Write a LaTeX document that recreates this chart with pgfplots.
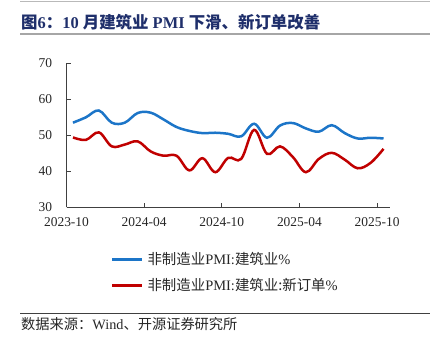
\documentclass[border=0pt]{standalone}
\usepackage{pgfplots}
\pgfplotsset{compat=1.18}
\usepackage{fontspec}
\setmainfont{Liberation Serif}
\newfontfamily\cjk{Noto Sans CJK SC}
\definecolor{pblue}{HTML}{1C75C8}
\definecolor{pred}{HTML}{C00000}
\definecolor{ttl}{HTML}{1F2F6B}
\definecolor{axgray}{HTML}{404040}
\begin{document}
\begin{tikzpicture}[x=1bp,y=1bp]
\path (0bp,0bp) rectangle (440bp,350bp);
\draw[gray!55, line width=0.8bp] (20bp,349bp) -- (430bp,349bp);
\node[anchor=west, text=ttl, inner sep=0pt, font=\fontsize{16.5}{19}\selectfont\bfseries] at (21bp,328bp) {{\cjk\bfseries 图}6{\cjk\bfseries ：}10 {\cjk\bfseries 月建筑业} PMI {\cjk\bfseries 下滑、新订单改善}};
\draw[gray!70, line width=2bp] (20bp,315.5bp) -- (430bp,315.5bp);
\begin{axis}[
  at={(66.5bp,143bp)}, anchor=south west, scale only axis,
  width=323.5bp, height=143.5bp,
  xmin=0, xmax=25, ymin=30, ymax=70,
  axis x line*=bottom, axis y line*=left,
  axis line style={color=axgray, line width=1bp},
  tick align=inside, major tick length=4bp,
  tick style={color=axgray, line width=1bp},
  xtick={0,6,12,18,24},
  xticklabels={2023-10,2024-04,2024-10,2025-04,2025-10},
  ytick={30,40,50,60,70},
  /pgf/number format/assume math mode=true,
  ticklabel style={font=\fontsize{13.5}{16}\selectfont, text=black!85},
  yticklabel style={xshift=-11bp},
  xticklabel style={yshift=-7bp},
  legend style={at={(0.137,-0.30)}, anchor=north west, draw=none, fill=none,
    inner sep=0pt, row sep=7bp,
    font=\fontsize{14.5}{17}\selectfont, text=black!85,
    nodes={inner sep=2.5bp}},
  legend cell align=left,
  legend image code/.code={\draw[#1, line width=2.5bp] (0bp,0bp) -- (30bp,0bp);},
]
\addplot[pblue, line width=2.5bp, smooth, tension=0.6] coordinates {
(0.5,53.5)(1.5,55.0)(2.5,56.9)(3.5,53.5)(4.5,53.5)(5.5,56.2)(6.5,56.3)(7.5,54.4)(8.5,52.3)(9.5,51.2)(10.5,50.6)(11.5,50.7)(12.5,50.4)(13.5,49.7)(14.5,53.2)(15.5,49.3)(16.5,52.7)(17.5,53.4)(18.5,51.9)(19.5,51.0)(20.5,52.8)(21.5,50.6)(22.5,49.1)(23.5,49.3)(24.5,49.1)
};
\addlegendentry{\hspace{1.5bp}{\cjk 非制造业}PMI:{\cjk 建筑业}\%}
\addplot[pred, line width=2.5bp, smooth, tension=0.6] coordinates {
(0.5,49.4)(1.5,48.7)(2.5,50.8)(3.5,46.9)(4.5,47.4)(5.5,48.3)(6.5,45.5)(7.5,44.3)(8.5,44.3)(9.5,40.2)(10.5,43.6)(11.5,39.7)(12.5,43.7)(13.5,43.4)(14.5,51.5)(15.5,44.8)(16.5,46.9)(17.5,43.9)(18.5,39.7)(19.5,43.4)(20.5,45.1)(21.5,43.2)(22.5,40.8)(23.5,42.3)(24.5,46.2)
};
\addlegendentry{\hspace{1.5bp}{\cjk 非制造业}PMI:{\cjk 建筑业:新订单}\%}
\end{axis}
\draw[axgray, line width=0.9bp] (20bp,37bp) -- (430bp,37bp);
\node[anchor=west, inner sep=0pt, text=black!85, font=\fontsize{14.3}{17}\selectfont] at (21bp,26bp) {{\cjk 数据来源：}Wind{\cjk 、开源证券研究所}};
\end{tikzpicture}
\end{document}
